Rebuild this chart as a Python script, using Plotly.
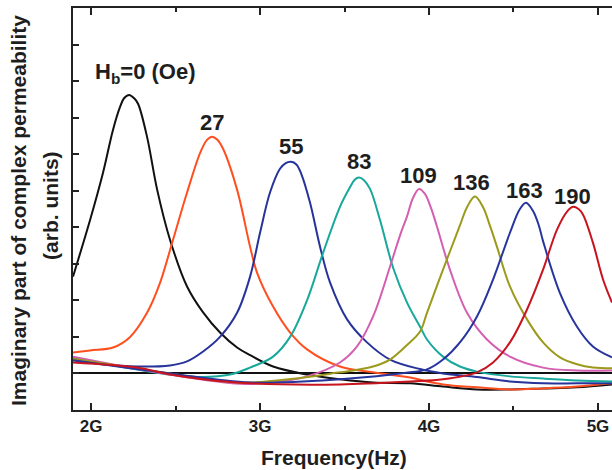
import plotly.graph_objects as go

# Bias-field series (Oe) and their colours
fields = ["0", "27", "55", "83", "109", "136", "163", "190"]
colors = ["#111111", "#FF4F1F", "#26339A", "#17A89B", "#D45FB0", "#9C9A1C", "#27359E", "#C8141E"]

# Frequency (GHz) and imaginary permeability (arb. units) for each bias field
f_0 = [1.893, 1.994, 2.071, 2.130, 2.172, 2.195, 2.225, 2.255, 2.278, 2.331, 2.391, 2.467,
       2.568, 2.663, 2.763, 2.864, 2.941, 3.077, 3.278, 3.473, 3.669, 3.888, 4.083, 4.284,
       4.479, 4.675, 4.876, 5.083]
mu_0 = [2.65, 4.20, 5.50, 6.67, 7.30, 7.53, 7.62, 7.53, 7.38, 6.48, 5.03, 3.66,
        2.38, 1.67, 1.12, 0.71, 0.50, 0.19, -0.03, -0.16, -0.25, -0.27, -0.36, -0.44,
        -0.44, -0.41, -0.38, -0.30]

f_27 = [1.893, 1.994, 2.130, 2.231, 2.331, 2.408, 2.485, 2.568, 2.645, 2.686, 2.716, 2.746,
        2.781, 2.864, 2.941, 2.982, 3.077, 3.178, 3.278, 3.473, 3.669, 3.870, 4.083, 4.284,
        4.479, 4.675, 4.876, 5.083]
mu_27 = [0.57, 0.63, 0.71, 1.00, 1.66, 2.48, 3.66, 4.95, 6.03, 6.39, 6.48, 6.40,
         6.15, 5.03, 3.47, 2.76, 1.83, 1.12, 0.66, 0.19, 0.03, -0.10, -0.30, -0.38,
         -0.44, -0.41, -0.36, -0.27]

f_55 = [1.893, 2.071, 2.272, 2.467, 2.568, 2.663, 2.763, 2.864, 2.941, 3.000, 3.059, 3.118,
        3.150, 3.183, 3.215, 3.245, 3.296, 3.355, 3.414, 3.515, 3.633, 3.769, 3.947, 4.083,
        4.284, 4.479, 4.675, 4.876, 5.083]
mu_55 = [0.36, 0.25, 0.19, 0.22, 0.33, 0.60, 1.00, 1.66, 2.65, 3.85, 4.95, 5.60,
         5.75, 5.79, 5.72, 5.45, 4.67, 3.47, 2.49, 1.48, 0.85, 0.38, 0.12, 0.00,
         -0.10, -0.22, -0.27, -0.27, -0.27]

f_83 = [1.893, 2.172, 2.467, 2.663, 2.822, 2.941, 3.077, 3.178, 3.278, 3.373, 3.473, 3.533,
        3.560, 3.586, 3.615, 3.651, 3.710, 3.787, 3.870, 3.947, 3.988, 4.083, 4.183, 4.284,
        4.479, 4.675, 4.876, 5.083]
mu_83 = [0.44, 0.19, -0.03, -0.10, -0.03, 0.16, 0.46, 1.00, 2.00, 3.30, 4.56, 5.10,
         5.30, 5.36, 5.29, 5.05, 4.20, 2.90, 1.94, 1.28, 0.93, 0.46, 0.19, 0.05,
         -0.08, -0.14, -0.19, -0.22]

f_109 = [1.893, 2.467, 2.882, 3.077, 3.278, 3.473, 3.574, 3.669, 3.769, 3.830, 3.870, 3.905,
         3.941, 3.975, 4.010, 4.047, 4.124, 4.225, 4.343, 4.479, 4.675, 4.876, 5.083]
mu_109 = [0.46, -0.03, -0.28, -0.25, -0.08, 0.30, 0.74, 1.56, 2.92, 3.80, 4.30, 4.80,
          5.05, 4.92, 4.55, 4.02, 2.84, 1.66, 0.93, 0.46, 0.16, 0.08, 0.08]

f_136 = [1.893, 2.467, 2.882, 3.473, 3.669, 3.769, 3.870, 3.947, 3.988, 4.083, 4.183, 4.225,
         4.272, 4.320, 4.360, 4.402, 4.479, 4.580, 4.675, 4.775, 4.876, 4.970, 5.083]
mu_136 = [0.40, 0.00, -0.25, 0.03, 0.19, 0.38, 0.78, 1.15, 1.66, 2.84, 4.05, 4.55,
          4.84, 4.55, 4.05, 3.47, 2.38, 1.48, 0.85, 0.44, 0.25, 0.16, 0.14]

f_163 = [1.893, 2.467, 2.941, 3.473, 3.888, 3.988, 4.083, 4.183, 4.284, 4.379, 4.479, 4.538,
         4.574, 4.615, 4.650, 4.675, 4.775, 4.876, 4.970, 5.083]
mu_163 = [0.36, 0.00, -0.25, -0.16, 0.03, 0.11, 0.38, 0.85, 1.56, 2.57, 3.85, 4.50,
          4.67, 4.45, 4.05, 3.62, 2.20, 1.28, 0.74, 0.44]

f_190 = [1.893, 2.272, 2.467, 2.663, 2.941, 3.473, 3.888, 4.083, 4.284, 4.379, 4.479, 4.580,
         4.675, 4.757, 4.817, 4.852, 4.885, 4.911, 4.970, 5.030, 5.083]
mu_190 = [0.30, 0.16, -0.03, -0.16, -0.27, -0.30, -0.22, -0.16, 0.03, 0.30, 0.85, 1.75,
          2.84, 3.93, 4.43, 4.56, 4.50, 4.35, 3.58, 2.57, 1.94]

freqs = [f_0, f_27, f_55, f_83, f_109, f_136, f_163, f_190]
values = [mu_0, mu_27, mu_55, mu_83, mu_109, mu_136, mu_163, mu_190]

# Label positions (GHz, arb. units) above each resonance peak
label_text = ["H<sub>b</sub>=0 (Oe)", "27", "55", "83", "109", "136", "163", "190"]
label_x = [2.32, 2.716, 3.183, 3.586, 3.935, 4.254, 4.568, 4.852]
label_y = [8.22, 6.86, 6.22, 5.80, 5.42, 5.22, 5.02, 4.84]

FONT = "Liberation Sans, Arial, Helvetica, sans-serif"
TXT = "#1e1e1e"

fig = go.Figure()
for name, fx, vy, col in zip(fields, freqs, values, colors):
    fig.add_trace(go.Scatter(
        x=fx, y=vy, mode="lines", name=name,
        line=dict(color=col, width=2, shape="spline", smoothing=1.0),
        showlegend=False,
    ))

for t, x, y in zip(label_text, label_x, label_y):
    fig.add_annotation(x=x, y=y, text=t, showarrow=False,
                       font=dict(family=FONT, size=22, color=TXT, weight="bold"),
                       xanchor="center", yanchor="middle")

# Axis titles
fig.add_annotation(xref="paper", yref="paper", x=0.484, y=-0.117,
                   text="Frequency(Hz)", showarrow=False,
                   font=dict(family=FONT, size=21, color=TXT, weight="bold"),
                   xanchor="center", yanchor="middle")
fig.add_annotation(xref="paper", yref="paper", x=-0.102, y=0.495,
                   text="Imaginary part of complex permeability", showarrow=False,
                   textangle=-90,
                   font=dict(family=FONT, size=21, color=TXT, weight="bold"),
                   xanchor="center", yanchor="middle")
fig.add_annotation(xref="paper", yref="paper", x=-0.041, y=0.51,
                   text="(arb. units)", showarrow=False, textangle=-90,
                   font=dict(family=FONT, size=21, color=TXT, weight="bold"),
                   xanchor="center", yanchor="middle")

fig.update_xaxes(
    range=[1.893, 5.083], tickmode="linear", tick0=0, dtick=1, ticksuffix="G",
    ticks="inside", ticklen=7, tickwidth=1.5, tickcolor="#222222",
    minor=dict(dtick=0.5, tick0=0, ticks="inside", ticklen=4, tickwidth=1.5, tickcolor="#222222"),
    showline=True, linecolor="#222222", linewidth=2, mirror="ticks",
    showgrid=False, zeroline=False,
    tickfont=dict(family=FONT, size=17, color=TXT, weight="bold"),
)
fig.update_yaxes(
    range=[-1, 10], tickmode="linear", tick0=0, dtick=1,
    ticks="inside", ticklen=6, tickwidth=1.5, tickcolor="#222222",
    showticklabels=False,
    showline=True, linecolor="#222222", linewidth=2, mirror=False,
    showgrid=False, zeroline=True, zerolinecolor="#111111", zerolinewidth=2,
)
fig.update_layout(
    width=612, height=470,
    margin=dict(l=73, r=0, t=8, b=60),
    plot_bgcolor="white", paper_bgcolor="white",
)

fig.write_html("out.html")
